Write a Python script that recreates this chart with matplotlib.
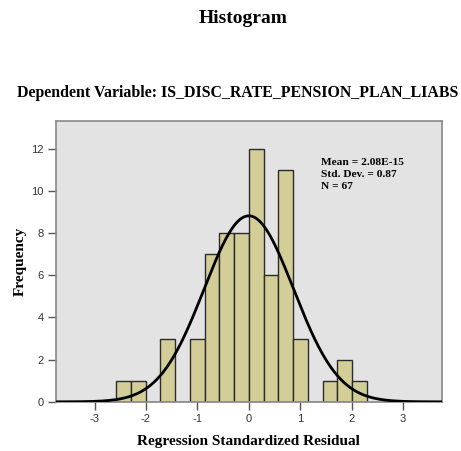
import numpy as np
import matplotlib
matplotlib.use("Agg")
import matplotlib.pyplot as plt

# histogram of regression standardized residuals (SPSS style)
bin_width = 0.2868
first_edge = -9 * bin_width
counts = [1, 1, 0, 3, 0, 3, 7, 8, 8, 12, 6, 11, 3, 0, 1, 2, 1]
x_ticks = [-3, -2, -1, 0, 1, 2, 3]
y_ticks = [0, 2, 4, 6, 8, 10, 12]

mean = 2.08e-15
std_dev = 0.87
n_obs = 67

serif = "Liberation Serif"
sans = "Liberation Sans"
plt.rcParams["axes.unicode_minus"] = False

fig = plt.figure(figsize=(4.61, 4.51), dpi=100)
ax = fig.add_axes([0.1215, 0.109, 0.8365, 0.6225])
ax.set_facecolor("#e3e3e3")

lefts = first_edge + bin_width * np.arange(len(counts))
ax.bar(lefts, counts, width=bin_width, align="edge", color="#d3ce97",
       edgecolor="#2b2b2b", linewidth=1.0, zorder=2)

# fitted normal curve scaled to the counts
xs = np.linspace(-3.75, 3.75, 400)
ys = n_obs * bin_width / (std_dev * np.sqrt(2 * np.pi)) * np.exp(-0.5 * ((xs - mean) / std_dev) ** 2)
ax.plot(xs, ys, color="black", linewidth=2.0, zorder=3)

ax.set_xlim(-3.75, 3.75)
ax.set_ylim(0, 13.3)
ax.set_xticks(x_ticks)
ax.set_yticks(y_ticks)
ax.tick_params(direction="out", length=6, width=1, color="#555555",
               labelsize=8, labelcolor="#333333", pad=3)
for lab in ax.get_xticklabels() + ax.get_yticklabels():
    lab.set_fontfamily(sans)
for sp in ax.spines.values():
    sp.set_color("#888888")
    sp.set_linewidth(1.2)

ax.set_xlabel("Regression Standardized Residual", fontfamily=serif,
              fontweight="bold", fontsize=11, labelpad=8)
ax.set_ylabel("Frequency", fontfamily=serif, fontweight="bold",
              fontsize=11, labelpad=3)

ax.text(0.688, 0.87, "Mean = %.2fE-15\nStd. Dev. = %.2f\nN = %d" % (mean * 1e15, std_dev, n_obs),
        transform=ax.transAxes, ha="left", va="top", fontfamily=serif,
        fontweight="bold", fontsize=8.2, linespacing=1.45, zorder=4)

fig.text(0.527, 0.96, "Histogram", ha="center", va="center",
         fontfamily=serif, fontweight="bold", fontsize=14)
fig.text(0.516, 0.794, "Dependent Variable: IS_DISC_RATE_PENSION_PLAN_LIABS",
         ha="center", va="center", fontfamily=serif, fontweight="bold", fontsize=11.4)

fig.savefig("out.png", dpi=100)
